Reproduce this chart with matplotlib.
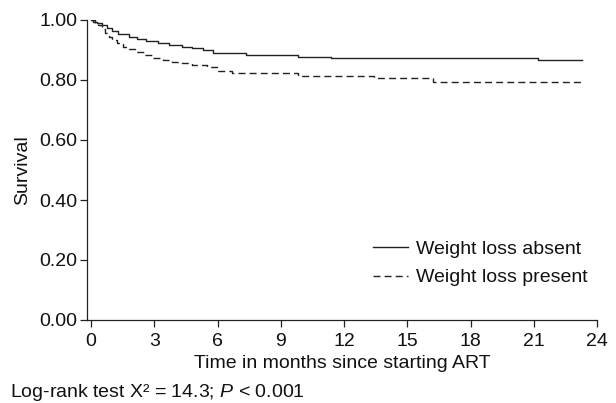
import matplotlib
matplotlib.use('Agg')
import matplotlib.pyplot as plt

plt.rcParams['font.family'] = ['Liberation Sans', 'DejaVu Sans']
plt.rcParams['mathtext.fontset'] = 'custom'
plt.rcParams['mathtext.rm'] = 'Liberation Sans'
plt.rcParams['mathtext.it'] = 'Liberation Sans:italic'

# Kaplan-Meier step estimates
absent_t = [0, 0.1, 0.3, 0.5, 0.75, 1.0, 1.3, 1.8, 2.2, 2.6, 3.2, 3.7, 4.3, 4.8, 5.3, 5.8, 7.35, 9.8, 11.4, 21.2, 23.3]
absent_s = [1.0, 0.995, 0.99, 0.983, 0.973, 0.963, 0.953, 0.944, 0.936, 0.929, 0.922, 0.917, 0.911, 0.906, 0.9, 0.889, 0.883, 0.878, 0.874, 0.867, 0.867]

present_t = [0, 0.2, 0.35, 0.5, 0.65, 0.85, 1.0, 1.25, 1.5, 1.8, 2.1, 2.5, 2.9, 3.4, 3.85, 4.3, 4.8, 5.5, 6.0, 6.7, 9.8, 13.4, 16.2, 23.3]
present_s = [1.0, 0.99, 0.983, 0.97, 0.957, 0.945, 0.933, 0.922, 0.911, 0.902, 0.892, 0.883, 0.874, 0.868, 0.861, 0.856, 0.85, 0.844, 0.831, 0.822, 0.814, 0.807, 0.792, 0.792]

x_ticks = [0, 3, 6, 9, 12, 15, 18, 21, 24]
y_ticks = [0.0, 0.2, 0.4, 0.6, 0.8, 1.0]

fs = 14
fig = plt.figure(figsize=(6.16, 4.03), dpi=100)
ax = fig.add_axes([87/616, 1 - 320/403, 510/616, 300/403])

col = '#222222'
ax.step(absent_t, absent_s, where='post', color=col, lw=1.0, label='Weight loss absent')
ax.step(present_t, present_s, where='post', color=col, lw=1.0, ls=(0, (5, 3)), label='Weight loss present')

ax.set_xlim(-0.19, 24)
ax.set_ylim(0, 1.0)
ax.set_xticks(x_ticks)
ax.set_yticks(y_ticks)
ax.set_yticklabels([f'{v:.2f}' for v in y_ticks])
for s in ['top', 'right']:
    ax.spines[s].set_visible(False)
for s in ['left', 'bottom']:
    ax.spines[s].set_color(col)
    ax.spines[s].set_linewidth(0.9)
ax.tick_params(direction='out', length=5, width=0.9, color=col, labelsize=fs, labelcolor='#111111')
ax.tick_params(axis='x', pad=4)
ax.tick_params(axis='y', pad=2)

ax.set_xlabel('Time in months since starting ART', fontsize=fs, labelpad=4, color='#111111')
ax.set_ylabel('Survival', fontsize=fs, labelpad=6, color='#111111')

leg = ax.legend(loc='upper left', bbox_to_anchor=(373/616, 1 - 240/403), bbox_transform=fig.transFigure,
                frameon=False, fontsize=fs, handlelength=1.8, handletextpad=0.42,
                labelspacing=0.58, borderpad=0, borderaxespad=0)
for t in leg.get_texts():
    t.set_color('#111111')

fig.text(10/616, 1 - 397/403, r'Log-rank test X² = 14.3; $\it{P}$ < 0.001', fontsize=fs, color='#111111', va='baseline')

fig.savefig('out.png', dpi=100)
